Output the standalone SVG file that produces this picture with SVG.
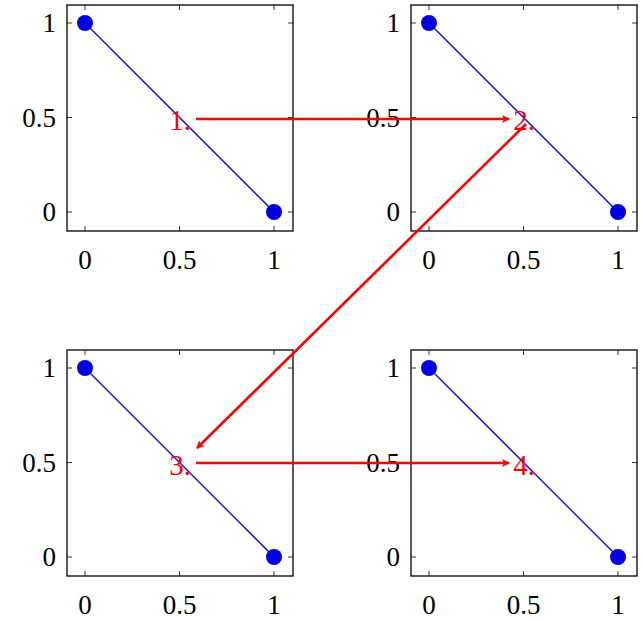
<svg xmlns="http://www.w3.org/2000/svg" width="643" height="621" viewBox="0 0 643 621">
<style>
.ax{fill:none;stroke:#000;stroke-width:1.3}
.tk{stroke:#000;stroke-width:0.8}
.ln{stroke:#0000ff;stroke-width:1.3;fill:none}
.pt{fill:#0000e0}
.t{font-family:"Liberation Serif",serif;font-size:27px;fill:#000}
.r{font-family:"Liberation Serif",serif;font-size:29px;fill:#ff0000}
.ar{stroke:#ff0000;stroke-width:2.6;fill:none}
</style>
<defs>
<marker id="ah" markerWidth="8" markerHeight="8" refX="7" refY="4" orient="auto" markerUnits="userSpaceOnUse" viewBox="0 0 8 8"><path d="M0,0 L8,4 L0,8 L2,4 Z" fill="#ff0000"/></marker>
<g id="plot">
<rect class="ax" x="67" y="5" width="226" height="226"/>
<path class="tk" d="M85,231v-5M179.5,231v-5M274,231v-5M85,5v5M179.5,5v5M274,5v5M67,212h5M67,117.5h5M67,23h5M293,212h-5M293,117.5h-5M293,23h-5"/>
<line class="ln" x1="85" y1="23" x2="274" y2="212"/>
<circle class="pt" cx="85" cy="23" r="8"/>
<circle class="pt" cx="274" cy="212" r="8"/>
<text class="t" x="85" y="269" text-anchor="middle">0</text>
<text class="t" x="179.5" y="269" text-anchor="middle">0.5</text>
<text class="t" x="274" y="269" text-anchor="middle">1</text>
<text class="t" x="56" y="221" text-anchor="end">0</text>
<text class="t" x="56" y="127" text-anchor="end">0.5</text>
<text class="t" x="56" y="32" text-anchor="end">1</text>
</g>
</defs>
<g id="p1"><use href="#plot"/></g>
<g id="p2"><use href="#plot" x="344"/></g>
<g id="p3"><use href="#plot" y="345"/></g>
<g id="p4"><use href="#plot" x="344" y="345"/></g>
<g id="labels">
<text class="r" x="180" y="130" text-anchor="middle">1.</text>
<text class="r" x="524" y="130" text-anchor="middle">2.</text>
<text class="r" x="180" y="475" text-anchor="middle">3.</text>
<text class="r" x="524" y="475" text-anchor="middle">4.</text>
</g>
<g id="connectors">
<line class="ar" x1="196" y1="119" x2="509" y2="119" marker-end="url(#ah)"/>
<line class="ar" x1="526" y1="124" x2="197" y2="448" marker-end="url(#ah)"/>
<line class="ar" x1="196" y1="463" x2="509" y2="463" marker-end="url(#ah)"/>
</g>
</svg>
